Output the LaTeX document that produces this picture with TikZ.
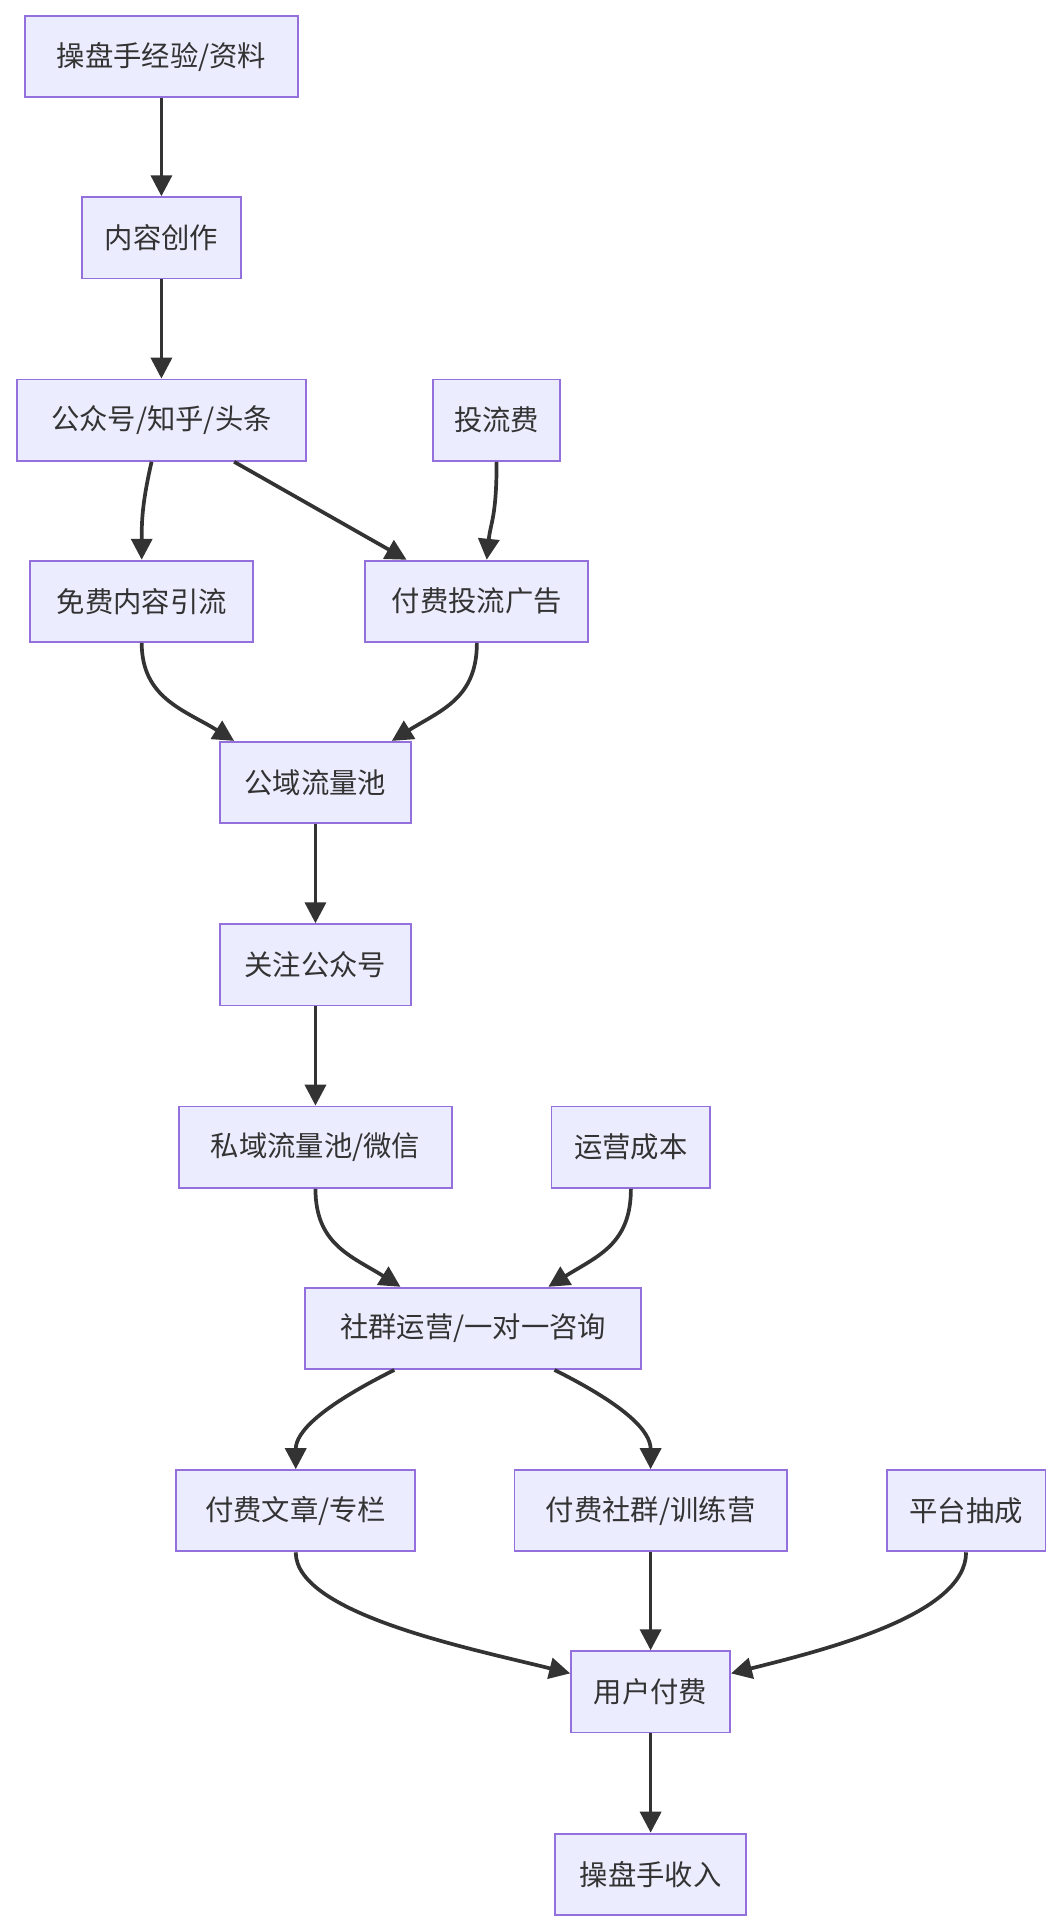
\documentclass[tikz,border=0pt]{standalone}
\usepackage{fontspec}
\setmainfont{Noto Sans CJK SC}
\usetikzlibrary{arrows.meta,calc}
\definecolor{boxfill}{HTML}{ECECFF}
\definecolor{boxline}{HTML}{9370DB}
\definecolor{arrowc}{HTML}{333333}
\tikzset{
  box/.style={draw=boxline,fill=boxfill,line width=1.5pt,minimum height=66pt,inner sep=0pt,
    font=\fontsize{23}{26}\selectfont,text=arrowc},
  arr/.style={draw=arrowc,line width=3pt,-{Triangle[length=17pt,width=17pt]}}
}
\begin{document}
\begin{tikzpicture}[x=1pt,y=-1pt]
\useasboundingbox (0,0) rectangle (860,1563);
% nodes
\node[box,minimum width=221pt] (exp) at (131,46) {操盘手经验/资料};
\node[box,minimum width=129pt] (write) at (131,193) {内容创作};
\node[box,minimum width=234pt] (media) at (131,341) {公众号/知乎/头条};
\node[box,minimum width=103pt] (adfee) at (403,341) {投流费};
\node[box,minimum width=181pt] (free) at (115,488) {免费内容引流};
\node[box,minimum width=181pt] (ads) at (387,488) {付费投流广告};
\node[box,minimum width=155pt] (pub) at (256,635) {公域流量池};
\node[box,minimum width=155pt] (follow) at (256,783) {关注公众号};
\node[box,minimum width=221pt] (priv) at (256,931) {私域流量池/微信};
\node[box,minimum width=129pt] (opcost) at (512,931) {运营成本};
\node[box,minimum width=273pt] (group) at (384,1078) {社群运营/一对一咨询};
\node[box,minimum width=194pt] (article) at (240,1226) {付费文章/专栏};
\node[box,minimum width=221pt] (camp) at (528,1226) {付费社群/训练营};
\node[box,minimum width=129pt] (cut) at (784,1226) {平台抽成};
\node[box,minimum width=129pt] (pay) at (528,1373) {用户付费};
\node[box,minimum width=155pt] (income) at (528,1521) {操盘手收入};
% edges
\draw[arr] (exp) -- (write);
\draw[arr] (write) -- (media);
\draw[arr] ($(media.south)+(-8,0)$) .. controls +(-8,35) and +(0,-30) .. (free.north);
\draw[arr] ($(media.south)+(59,0)$) -- ($(ads.north)+(-57,0)$);
\draw[arr] (adfee.south) .. controls +(0,45) and +(3,-30) .. ($(ads.north)+(8,0)$);
\draw[arr] (free.south) .. controls +(0,45) and +(-40,-25) .. ($(pub.north)+(-66,0)$);
\draw[arr] (ads.south) .. controls +(0,45) and +(40,-25) .. ($(pub.north)+(62,0)$);
\draw[arr] (pub) -- (follow);
\draw[arr] (follow) -- (priv);
\draw[arr] (priv.south) .. controls +(0,45) and +(-40,-25) .. ($(group.north)+(-59,0)$);
\draw[arr] (opcost.south) .. controls +(0,45) and +(40,-25) .. ($(group.north)+(61,0)$);
\draw[arr] ($(group.south)+(-64,0)$) .. controls +(-60,30) and +(0,-30) .. (article.north);
\draw[arr] ($(group.south)+(66,0)$) .. controls +(60,30) and +(0,-30) .. (camp.north);
\draw[arr] (camp) -- (pay);
\draw[arr] (article.south) .. controls +(0,50) and +(-80,-20) .. ($(pay.west)+(0,-15)$);
\draw[arr] (cut.south) .. controls +(0,50) and +(80,-20) .. ($(pay.east)+(0,-15)$);
\draw[arr] (pay) -- (income);
\end{tikzpicture}
\end{document}
